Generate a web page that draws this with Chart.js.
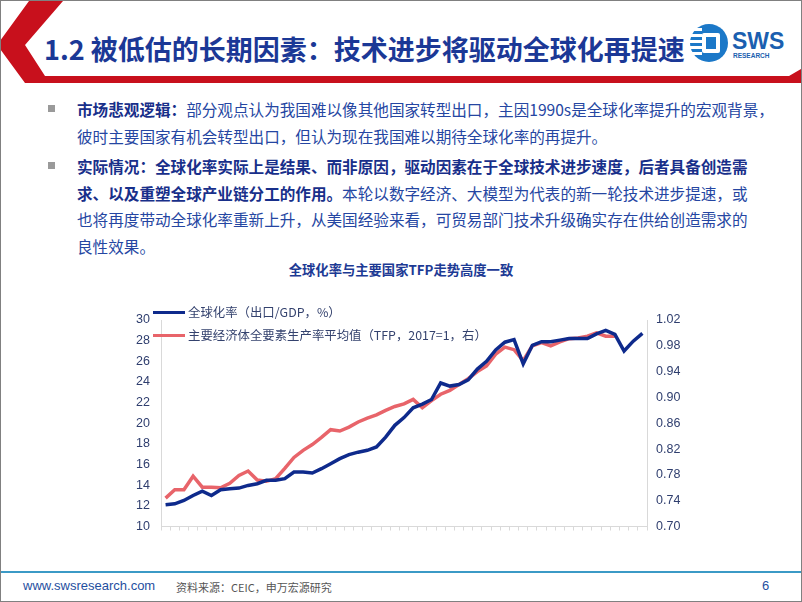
<!DOCTYPE html>
<html>
<head>
<meta charset="utf-8">
<script src="https://cdn.jsdelivr.net/npm/chart.js@4.4.1/dist/chart.umd.min.js"></script>
<style>
  body { margin: 0; background: #fff; }
  #slide {
    position: relative; width: 800px; height: 600px;
    border: 1px solid #808080; overflow: hidden; background: #fff;
    font-family: "Noto Sans CJK SC", "Noto Sans", sans-serif;
  }
  .abs { position: absolute; white-space: nowrap; }
  #title { left: 43px; top: 28px; font-size: 27px; font-weight: 700; color: #1b3896; }
  #body { left: 76px; top: 96px; font-size: 15.6px; color: #2546a2; }
  #body .ln { position: absolute; left: 0; white-space: nowrap; line-height: 20px; }
  #body b { color: #182f8a; }
  .bullet { position: absolute; width: 7px; height: 7px; background: #9a9a9a; }
  #ctitle { left: 0; width: 800px; top: 259px; text-align: center; font-size: 13.3px; font-weight: 700; color: #1d3a94; }
  .leg { position: absolute; font-size: 12.4px; color: #34426e; white-space: nowrap; line-height: 16px; }
  .leg i { display: inline-block; width: 32px; height: 3.5px; vertical-align: middle; margin-right: 3px; position: relative; top: -1px; }
  #foot { left: -1px; top: 570px; width: 802px; height: 2px; background: #3b9ac6; }
</style>
</head>
<body>
<div id="slide">
  <svg class="abs" style="left:0;top:0" width="800" height="90">
    <polygon points="28,0 62,0 24,44 44,75 788,75 800,68 800,82 24,82 -1,48 -1,40" fill="#c8101c"/>
    <circle cx="708" cy="42" r="19" fill="#1b78c8"/>
    <rect x="689" y="27" width="12" height="3" fill="#fff"/>
    <rect x="689" y="33" width="12" height="3" fill="#fff"/>
    <rect x="689" y="39" width="12" height="3" fill="#fff"/>
    <rect x="689" y="45" width="12" height="3" fill="#fff"/>
    <rect x="689" y="51" width="12" height="3" fill="#fff"/>
    <rect x="701" y="32" width="18" height="20" rx="2" fill="#fff"/>
    <rect x="705" y="36" width="10" height="12" fill="#1b78c8"/>
    <text x="731" y="48" font-family="Liberation Sans, Arial" font-weight="700" font-size="23" fill="#1b5fb0">SWS</text>
    <text x="732" y="57" font-family="Liberation Sans, Arial" font-weight="700" font-size="6.5" fill="#1b5fb0">RESEARCH</text>
  </svg>
  <div id="title" class="abs">1.2 被低估的长期因素：技术进步将驱动全球化再提速</div>

  <div class="bullet" style="left:47px;top:104px"></div>
  <div class="bullet" style="left:47px;top:161px"></div>
  <div id="body" class="abs">
    <div class="ln" style="top:2px"><b>市场悲观逻辑：</b>部分观点认为我国难以像其他国家转型出口，主因1990s是全球化率提升的宏观背景，</div>
    <div class="ln" style="top:29px">彼时主要国家有机会转型出口，但认为现在我国难以期待全球化率的再提升。</div>
    <div class="ln" style="top:59px"><b>实际情况：全球化率实际上是结果、而非原因，驱动因素在于全球技术进步速度，后者具备创造需</b></div>
    <div class="ln" style="top:86px"><b>求、以及重塑全球产业链分工的作用。</b>本轮以数字经济、大模型为代表的新一轮技术进步提速，或</div>
    <div class="ln" style="top:112px">也将再度带动全球化率重新上升，从美国经验来看，可贸易部门技术升级确实存在供给创造需求的</div>
    <div class="ln" style="top:139px">良性效果。</div>
  </div>

  <div id="ctitle" class="abs">全球化率与主要国家TFP走势高度一致</div>

  <div class="abs" style="left:99px;top:299px;width:600px;height:245px">
    <canvas id="chart" width="600" height="245"></canvas>
  </div>
  <div class="leg" style="left:152px;top:303px"><i style="background:#0e2a8c"></i>全球化率（出口/GDP，%）</div>
  <div class="leg" style="left:152px;top:326px"><i style="background:#e8646a"></i>主要经济体全要素生产率平均值（TFP，2017=1，右）</div>

  <div id="foot" class="abs"></div>
  <div class="abs" style="left:22px;top:577px;font-family:'Liberation Sans',Arial;font-size:13px;color:#1f4fa0">www.swsresearch.com</div>
  <div class="abs" style="left:175px;top:578px;font-size:11px;color:#555">资料来源：CEIC，申万宏源研究</div>
  <div class="abs" style="left:761px;top:577px;font-family:'Liberation Sans',Arial;font-size:13px;color:#1f4fa0">6</div>
</div>

<script>
const years = ["1970","1971","1972","1973","1974","1975","1976","1977","1978","1979",
  "1980","1981","1982","1983","1984","1985","1986","1987","1988","1989",
  "1990","1991","1992","1993","1994","1995","1996","1997","1998","1999",
  "2000","2001","2002","2003","2004","2005","2006","2007","2008","2009",
  "2010","2011","2012","2013","2014","2015","2016","2017","2018","2019",
  "2020","2021","2022"];

// 全球化率（出口/GDP，%），左轴
const globalization = [12.1, 12.2, 12.52, 13.0, 13.43, 13.0, 13.56, 13.66, 13.72, 13.98,
  14.14, 14.47, 14.47, 14.63, 15.27, 15.27, 15.18, 15.6, 16.08, 16.57,
  16.96, 17.2, 17.38, 17.7, 18.65, 19.8, 20.55, 21.5, 21.85, 22.3,
  23.9, 23.6, 23.75, 24.2, 25.25, 26.0, 27.1, 27.85, 28.1, 25.75,
  27.55, 27.9, 27.9, 28.05, 28.2, 28.2, 28.2, 28.65, 29.0, 28.6,
  27.0, 27.95, 28.7];

// 主要经济体TFP平均值（2017=1），右轴
const tfp = [0.744, 0.757, 0.757, 0.778, 0.761, 0.761, 0.760, 0.767, 0.779, 0.786,
  0.772, 0.770, 0.774, 0.790, 0.807, 0.818, 0.827, 0.838, 0.850, 0.848,
  0.854, 0.862, 0.868, 0.873, 0.880, 0.886, 0.890, 0.897, 0.884, 0.895,
  0.905, 0.911, 0.920, 0.929, 0.940, 0.949, 0.967, 0.978, 0.974, 0.957,
  0.980, 0.985, 0.980, 0.986, 0.991, 0.992, 0.995, 1.000, 0.995, 0.995];

const leftTicks = { min: 10, max: 30, step: 2 };
const rightTicks = { min: 0.70, max: 1.02, step: 0.04 };

const tickFont = { family: "'Liberation Sans', Arial, sans-serif", size: 12.5 };
const tickColor = "#2f3e6e";
const axisGrey = "#d9d9d9";

const ctx = document.getElementById("chart").getContext("2d");
new Chart(ctx, {
  type: "line",
  data: {
    labels: years,
    datasets: [
      {
        label: "全球化率（出口/GDP，%）",
        data: globalization,
        yAxisID: "y",
        borderColor: "#0e2a8c",
        borderWidth: 3.5,
        pointRadius: 0,
        tension: 0,
        order: 1,
      },
      {
        label: "主要经济体全要素生产率平均值（TFP，2017=1，右）",
        data: tfp,
        yAxisID: "y1",
        borderColor: "#e8646a",
        borderWidth: 3.5,
        pointRadius: 0,
        tension: 0,
        order: 2,
      },
    ],
  },
  options: {
    responsive: false,
    animation: false,
    devicePixelRatio: 1,
    layout: { padding: { top: 20, left: 0, right: 0, bottom: 0 } },
    plugins: { legend: { display: false }, tooltip: { enabled: false } },
    scales: {
      x: {
        offset: true,
        grid: { offset: true, drawOnChartArea: false, color: axisGrey, tickLength: 4 },
        border: { color: axisGrey },
        ticks: { display: false },
        afterFit: (s) => { s.height = 14; },
      },
      y: {
        position: "left",
        min: leftTicks.min,
        max: leftTicks.max,
        ticks: { stepSize: leftTicks.step, font: tickFont, color: tickColor, padding: 11 },
        grid: { display: false, drawTicks: false },
        border: { color: axisGrey },
        afterFit: (s) => { s.width = 61; },
      },
      y1: {
        position: "right",
        min: rightTicks.min,
        max: rightTicks.max,
        ticks: {
          stepSize: rightTicks.step,
          font: tickFont,
          color: tickColor,
          padding: 9,
          callback: (v) => v.toFixed(2),
        },
        grid: { display: false, drawTicks: false },
        border: { color: axisGrey },
        afterFit: (s) => { s.width = 53; },
      },
    },
  },
});
</script>
</body>
</html>
